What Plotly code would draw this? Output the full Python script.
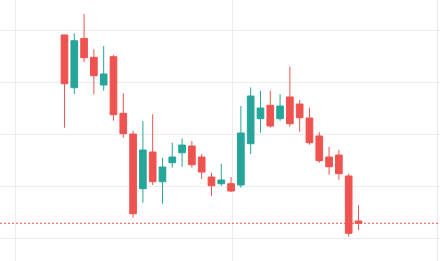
import plotly.graph_objects as go

# candle index (trading days)
idx = list(range(31))
opens = [139.04, 128.90, 138.40, 134.75, 129.42, 134.87, 123.98, 120.00, 109.48, 116.54,
         110.83, 114.48, 116.40, 117.69, 115.58, 111.73, 110.44, 110.44, 110.19, 118.13,
         122.94, 125.52, 122.94, 127.12, 125.77, 123.08, 119.62, 115.58, 115.96, 111.92, 103.27]
highs = [139.13, 139.37, 143.08, 136.29, 136.92, 135.19, 127.83, 120.63, 122.50, 123.79,
         115.44, 118.33, 119.17, 118.65, 116.15, 112.50, 114.29, 111.73, 125.38, 128.98,
         128.33, 128.33, 127.69, 132.94, 126.54, 125.06, 120.38, 117.56, 116.92, 112.37, 106.35]
lows = [121.21, 127.69, 133.79, 127.63, 128.33, 122.56, 119.29, 103.90, 106.79, 110.19,
        106.60, 113.52, 113.71, 113.52, 111.35, 108.08, 110.00, 108.85, 109.67, 116.15,
        120.25, 121.21, 122.56, 121.40, 120.44, 117.94, 114.48, 112.17, 111.21, 100.25, 101.54]
closes = [129.67, 137.94, 134.67, 131.21, 131.54, 123.71, 120.06, 104.67, 116.92, 110.83,
          113.65, 115.58, 117.88, 114.10, 112.69, 110.06, 111.15, 109.04, 120.19, 127.31,
          125.00, 121.54, 125.38, 121.98, 123.13, 118.33, 114.87, 113.71, 112.37, 100.90, 102.83]

x_grid = [-5, 17.1, 38.1]
y_grid = [100, 110, 120, 130, 140]

UP = "#26a69a"
DOWN = "#ef5350"

fig = go.Figure(go.Candlestick(
    x=idx, open=opens, high=highs, low=lows, close=closes,
    increasing=dict(line=dict(color=UP, width=1), fillcolor=UP),
    decreasing=dict(line=dict(color=DOWN, width=1), fillcolor=DOWN),
    whiskerwidth=0,
    hoverinfo="skip",
))

fig.add_shape(type="line", xref="paper", x0=0, x1=1, yref="y",
              y0=closes[-1], y1=closes[-1],
              line=dict(color=DOWN, width=1, dash="2px,2px"))

fig.update_layout(
    width=440, height=261,
    margin=dict(l=0, r=0, t=0, b=0),
    paper_bgcolor="white", plot_bgcolor="white",
    showlegend=False,
    boxgap=0.15, boxgroupgap=0.2,
    xaxis=dict(range=[-6.58, 38.32], tickvals=x_grid, showticklabels=False,
               showgrid=True, gridcolor="#ececec", gridwidth=1, zeroline=False,
               rangeslider=dict(visible=False), showline=False, ticks=""),
    yaxis=dict(range=[95.58, 145.77], tickvals=y_grid, showticklabels=False,
               showgrid=True, gridcolor="#ececec", gridwidth=1, zeroline=False,
               showline=False, ticks=""),
)

fig.write_html("out.html")
